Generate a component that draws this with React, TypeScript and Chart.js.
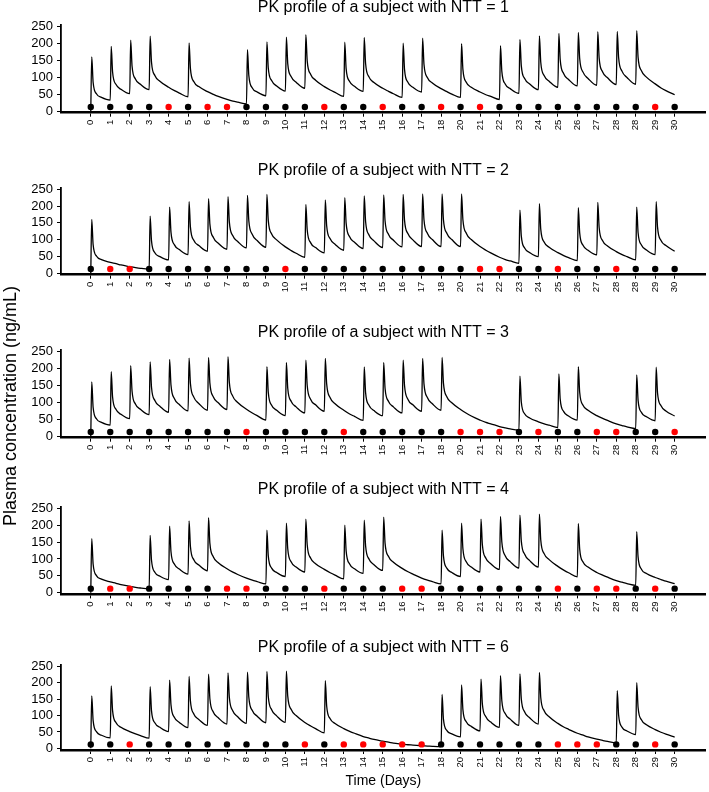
import React, { useEffect, useRef } from 'react';
import { Chart, registerables } from 'chart.js';

Chart.register(...registerables);

type Row = (number | null)[];

// x-axis tick labels as printed on the figure (31 evenly spaced positions)
const tickLabels = [
  '0', '1', '2', '3', '4', '5', '6', '7', '8', '9', '10', '11', '12', '13', '14', '15', '16', '17', '18',
  '20', '21', '22', '23', '24', '25', '26', '27', '28', '28', '29', '30',
];
const yTickValues = [0, 50, 100, 150, 200, 250];

// time offsets (in days, within each day position) of the values stored in each profile row:
// [level at start of day, peak, early decline, mid decline, late decline]
const sampleOffsets = [0, 0.05, 0.12, 0.3, 0.55];
const doseMarkerLevel = 12;

// Concentration readings (ng/mL); rows without a dose carry nulls for peak/early
const ntt1Profile: Row[] = [
  [0, 160, 85, 50, 40], [32, 191, 115, 78, 64], [51, 209, 133, 94, 79], [63, 221, 144, 104, 88],
  [70, null, null, 60, 53], [42, 201, 125, 86, 72], [57, null, null, 49, 43], [34, null, null, 29, 26],
  [21, 181, 105, 68, 56], [45, 204, 127, 89, 74], [59, 218, 140, 101, 85], [67, 225, 148, 108, 91],
  [72, null, null, 62, 55], [43, 203, 125, 87, 73], [58, 217, 140, 100, 84], [67, null, null, 58, 51],
  [40, 200, 123, 84, 70], [56, 215, 138, 98, 83], [66, null, null, 57, 50], [40, 199, 123, 84, 70],
  [56, null, null, 48, 43], [34, 193, 117, 79, 66], [52, 211, 134, 95, 80], [63, 222, 144, 104, 88],
  [70, 229, 151, 110, 93], [74, 232, 155, 114, 96], [76, 234, 156, 115, 98], [78, 235, 158, 117, 99],
  [79, 237, 159, 118, 100], [80, null, null, 68, 60], [48],
];
const ntt1Doses = [1, 1, 1, 1, 0, 1, 0, 0, 1, 1, 1, 1, 0, 1, 1, 0, 1, 1, 0, 1, 0, 1, 1, 1, 1, 1, 1, 1, 1, 0, 1];

const ntt2Profile: Row[] = [
  [0, 160, 85, 50, 40], [32, null, null, 28, 24], [19, null, null, 16, 14], [12, 170, 96, 60, 49],
  [39, 197, 122, 84, 70], [55, 213, 137, 97, 82], [65, 222, 146, 106, 89], [71, 228, 152, 111, 94],
  [75, 232, 156, 115, 97], [77, 235, 157, 116, 99], [78, null, null, 67, 59], [47, 205, 129, 90, 76],
  [60, 218, 141, 102, 86], [68, 225, 149, 108, 92], [73, 230, 154, 113, 96], [76, 233, 156, 115, 98],
  [78, 235, 158, 117, 99], [79, 236, 159, 118, 100], [79, 236, 159, 118, 100], [79, 236, 159, 118, 100],
  [79, null, null, 68, 60], [47, null, null, 40, 36], [29, 188, 111, 74, 61], [49, 207, 131, 92, 77],
  [61, null, null, 52, 46], [37, 195, 120, 82, 68], [54, 211, 136, 96, 81], [64, null, null, 55, 49],
  [39, 197, 121, 83, 69], [55, 213, 137, 97, 82], [65],
];
const ntt2Doses = [1, 0, 0, 1, 1, 1, 1, 1, 1, 1, 0, 1, 1, 1, 1, 1, 1, 1, 1, 1, 0, 0, 1, 1, 0, 1, 1, 0, 1, 1, 1];

const ntt3Profile: Row[] = [
  [0, 160, 85, 50, 40], [32, 190, 115, 78, 64], [51, 208, 133, 94, 79], [63, 219, 144, 104, 88],
  [70, 226, 151, 110, 93], [74, 230, 155, 114, 96], [76, 232, 156, 115, 98], [78, 234, 158, 117, 99],
  [79, null, null, 68, 60], [47, 205, 129, 90, 76], [60, 217, 141, 102, 86], [68, 224, 149, 108, 92],
  [73, 229, 154, 113, 95], [76, null, null, 65, 58], [46, 204, 128, 90, 75], [60, 217, 141, 102, 86],
  [68, 224, 149, 108, 92], [73, 229, 154, 113, 95], [76, 232, 156, 115, 98], [78, null, null, 67, 59],
  [47, null, null, 40, 36], [28, null, null, 24, 21], [18, 177, 101, 65, 53], [42, null, null, 36, 32],
  [25, 183, 108, 72, 59], [47, 205, 129, 90, 76], [60, null, null, 52, 46], [36, null, null, 31, 27],
  [22, 180, 106, 69, 57], [45, 203, 127, 89, 74], [59],
];
const ntt3Doses = [1, 1, 1, 1, 1, 1, 1, 1, 0, 1, 1, 1, 1, 0, 1, 1, 1, 1, 1, 0, 0, 0, 1, 0, 1, 1, 0, 0, 1, 1, 0];

const ntt4Profile: Row[] = [
  [0, 160, 85, 50, 40], [32, null, null, 28, 24], [19, null, null, 16, 14], [12, 170, 96, 60, 49],
  [39, 197, 122, 84, 70], [55, 213, 137, 97, 82], [65, 222, 146, 106, 89], [71, null, null, 61, 54],
  [43, null, null, 37, 33], [26, 185, 109, 72, 60], [48, 206, 130, 91, 76], [61, 218, 142, 102, 86],
  [69, null, null, 59, 52], [41, 200, 124, 85, 71], [57, 215, 139, 99, 83], [66, 224, 147, 107, 90],
  [72, null, null, 62, 55], [43, null, null, 37, 33], [26, 185, 109, 72, 60], [48, 206, 130, 91, 76],
  [61, 218, 142, 102, 86], [69, 226, 150, 109, 92], [73, 230, 154, 113, 95], [76, 233, 156, 115, 98],
  [78, null, null, 67, 59], [47, 205, 129, 90, 76], [60, null, null, 52, 46], [36, null, null, 31, 27],
  [22, 181, 106, 69, 57], [45, null, null, 39, 34], [27],
];
const ntt4Doses = [1, 0, 0, 1, 1, 1, 1, 0, 0, 1, 1, 1, 0, 1, 1, 1, 0, 0, 1, 1, 1, 1, 1, 1, 0, 1, 0, 0, 1, 0, 1];

const ntt6Profile: Row[] = [
  [0, 160, 85, 50, 40], [32, 190, 115, 78, 64], [51, null, null, 44, 39], [31, 188, 114, 77, 64],
  [51, 208, 133, 94, 79], [63, 219, 144, 104, 88], [70, 226, 151, 110, 93], [74, 230, 155, 114, 96],
  [76, 232, 156, 115, 98], [78, 234, 158, 117, 99], [79, 235, 159, 118, 100], [79, null, null, 68, 60],
  [47, 206, 129, 90, 76], [60, null, null, 52, 46], [36, null, null, 31, 27], [22, null, null, 19, 16],
  [13, null, null, 11, 10], [8, null, null, 7, 6], [5, 164, 89, 54, 44], [35, 193, 118, 80, 67],
  [53, 211, 135, 96, 80], [64, 221, 145, 105, 89], [70, 227, 151, 110, 93], [74, 231, 155, 114, 96],
  [76, null, null, 65, 58], [46, null, null, 40, 35], [28, null, null, 24, 21], [17, 176, 101, 64, 53],
  [42, 200, 125, 86, 72], [57, null, null, 49, 43], [34],
];
const ntt6Doses = [1, 1, 0, 1, 1, 1, 1, 1, 1, 1, 1, 0, 1, 0, 0, 0, 0, 0, 1, 1, 1, 1, 1, 1, 0, 0, 0, 1, 1, 0, 1];

const FONT = "'Liberation Sans', Arial, Helvetica, sans-serif";

interface PanelCfg {
  ntt: number;
  profile: Row[];
  doses: number[];
  top: number;
  height: number;
  axisH: number;
  xTitle: boolean;
}

const panels: PanelCfg[] = [
  { ntt: 1, profile: ntt1Profile, doses: ntt1Doses, top: -2, height: 150, axisH: 35.3, xTitle: false },
  { ntt: 2, profile: ntt2Profile, doses: ntt2Doses, top: 161, height: 150, axisH: 36.3, xTitle: false },
  { ntt: 3, profile: ntt3Profile, doses: ntt3Doses, top: 323, height: 150, axisH: 35.3, xTitle: false },
  { ntt: 4, profile: ntt4Profile, doses: ntt4Doses, top: 480, height: 150, axisH: 35.6, xTitle: false },
  { ntt: 6, profile: ntt6Profile, doses: ntt6Doses, top: 638, height: 154, axisH: 42, xTitle: true },
];

function PKPanel({ cfg }: { cfg: PanelCfg }) {
  const ref = useRef<HTMLCanvasElement | null>(null);
  useEffect(() => {
    if (!ref.current) return;
    const curve: { x: number; y: number }[] = [];
    cfg.profile.forEach((row, i) => {
      row.forEach((v, k) => {
        if (v !== null && v !== undefined) curve.push({ x: i + sampleOffsets[k], y: v });
      });
    });
    const dots = cfg.doses.map((_, i) => ({ x: i, y: doseMarkerLevel }));
    const dotColors = cfg.doses.map((d) => (d ? '#000000' : '#ff0000'));

    const chart = new Chart(ref.current, {
      type: 'line',
      data: {
        datasets: [
          {
            label: 'doses',
            data: dots,
            showLine: false,
            pointRadius: 3.2,
            pointHoverRadius: 3.2,
            pointBorderWidth: 0,
            pointBackgroundColor: dotColors,
            pointBorderColor: dotColors,
          } as any,
          {
            label: 'concentration',
            data: curve,
            borderColor: '#000000',
            borderWidth: 1.3,
            pointRadius: 0,
            pointHoverRadius: 0,
            fill: false,
            cubicInterpolationMode: 'monotone',
          } as any,
        ],
      },
      options: {
        animation: false,
        responsive: false,
        events: [],
        layout: { padding: 0 },
        plugins: {
          legend: { display: false },
          tooltip: { enabled: false },
          title: {
            display: true,
            text: `PK profile of a subject with NTT = ${cfg.ntt}`,
            fullSize: false,
            color: '#000000',
            font: { family: FONT, size: 16, weight: 'normal' },
            padding: { top: 0, bottom: 7.4 },
          },
        },
        scales: {
          x: {
            type: 'linear',
            min: -1.53,
            max: 31.6,
            afterBuildTicks: (s: any) => {
              s.ticks = tickLabels.map((_, i) => ({ value: i }));
            },
            afterFit: (s: any) => {
              s.height = cfg.axisH;
            },
            ticks: {
              autoSkip: false,
              minRotation: 90,
              maxRotation: 90,
              padding: 3,
              color: '#000000',
              font: { family: FONT, size: 9.5 },
              callback: (v: any) => tickLabels[Math.round(Number(v))],
            },
            grid: {
              display: true,
              drawOnChartArea: false,
              drawTicks: true,
              tickLength: 4,
              color: '#000000',
              lineWidth: 1,
            },
            border: { display: true, color: '#000000', width: 2.5 },
            title: cfg.xTitle
              ? {
                  display: true,
                  text: 'Time (Days)',
                  color: '#000000',
                  font: { family: FONT, size: 14 },
                  padding: { top: 0, bottom: 2.6 },
                }
              : { display: false },
          },
          y: {
            min: -5,
            max: 255,
            afterBuildTicks: (s: any) => {
              s.ticks = yTickValues.map((v) => ({ value: v }));
            },
            afterFit: (s: any) => {
              s.width = 61;
            },
            ticks: {
              autoSkip: false,
              padding: 4,
              color: '#000000',
              font: { family: FONT, size: 13 },
            },
            grid: {
              display: true,
              drawOnChartArea: false,
              drawTicks: true,
              tickLength: 4,
              color: '#000000',
              lineWidth: 1,
            },
            border: { display: true, color: '#000000', width: 1.8 },
          },
        },
      } as any,
    });
    return () => chart.destroy();
  }, [cfg]);

  return (
    <canvas
      ref={ref}
      width={709}
      height={cfg.height}
      style={{ position: 'absolute', left: 0, top: cfg.top, width: 709, height: cfg.height, display: 'block' }}
    />
  );
}

export default function App() {
  return (
    <div
      style={{
        position: 'absolute',
        left: 0,
        top: 0,
        width: 709,
        height: 792,
        overflow: 'hidden',
        background: '#ffffff',
        fontFamily: FONT,
      }}
    >
      {panels.map((p) => (
        <PKPanel key={p.ntt} cfg={p} />
      ))}
      <div
        style={{
          position: 'absolute',
          left: 10 - 150,
          top: 406 - 11,
          width: 300,
          height: 22,
          lineHeight: '22px',
          fontSize: 18,
          textAlign: 'center',
          whiteSpace: 'nowrap',
          color: '#000000',
          transform: 'rotate(-90deg)',
        }}
      >
        Plasma concentration (ng/mL)
      </div>
    </div>
  );
}
